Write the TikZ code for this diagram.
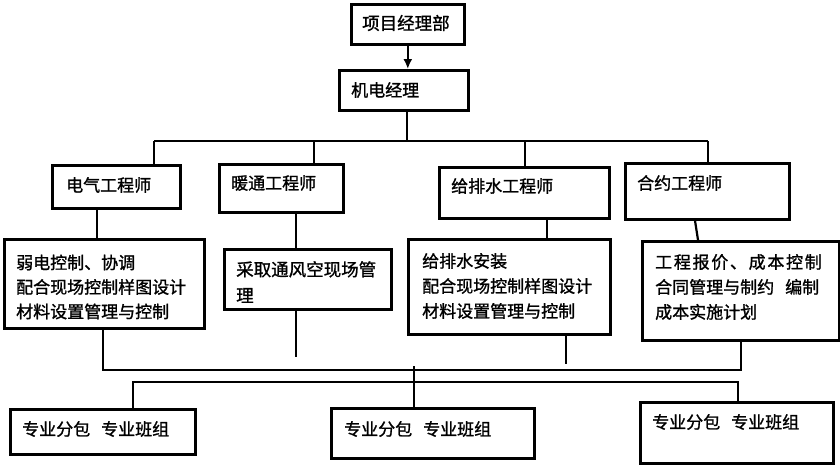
\documentclass[tikz,border=0pt]{standalone}
\usepackage{fontspec}
\setmainfont{Noto Sans CJK SC}[FakeBold=1.2]
\usetikzlibrary{arrows.meta,calc}
\begin{document}
\begin{tikzpicture}[x=1pt,y=-1pt,
  box/.style={draw, line width=2.6pt, inner sep=0pt, anchor=north west},
  lbl/.style={anchor=west, inner sep=0pt, font=\fontsize{17}{25}\selectfont, align=left},
  conn/.style={line width=2.2pt},
]
\useasboundingbox[fill=white] (0,0) rectangle (840,464);
% boxes
\node[box, minimum width=113pt, minimum height=40pt] (pm)  at (350,3)   {};
\node[box, minimum width=129pt, minimum height=40pt] (jd)  at (338,69)  {};
\node[box, minimum width=128pt, minimum height=43pt] (dq)  at (51,164)  {};
\node[box, minimum width=124pt, minimum height=48pt] (nt)  at (218,163) {};
\node[box, minimum width=170pt, minimum height=51pt] (gps) at (438,166) {};
\node[box, minimum width=164pt, minimum height=56pt] (hy)  at (624,162) {};
\node[box, minimum width=200pt, minimum height=89pt] (rd)  at (3,238)   {};
\node[box, minimum width=167pt, minimum height=60pt] (cq)  at (223,248) {};
\node[box, minimum width=202pt, minimum height=95pt] (gpa) at (407,238) {};
\node[box, minimum width=197pt, minimum height=99pt] (gc)  at (641,240) {};
\node[box, minimum width=185pt, minimum height=45pt] (s1)  at (9,408)   {};
\node[box, minimum width=203pt, minimum height=50pt] (s2)  at (330,407) {};
\node[box, minimum width=193pt, minimum height=61pt] (s3)  at (639,401) {};
% labels
\node[lbl, font=\fontsize{17.5}{25}\selectfont] (tpm) at (362,23) {项目经理部};
\node[lbl] (tjd)  at (351,90)  {机电经理};
\node[lbl] (tdq)  at (66,185)  {电气工程师};
\node[lbl] (tnt)  at (231,183) {暖通工程师};
\node[lbl] (tgps) at (451,186) {给排水工程师};
\node[lbl] (thy)  at (637,183) {合约工程师};
\node[lbl, font=\fontsize{17}{24.5}\selectfont] (trd) at (16,287)
  {弱电控制、协调\\配合现场控制样图设计\\材料设置管理与控制};
\node[lbl, font=\fontsize{17.5}{26}\selectfont] (tcq) at (236,282)
  {采取通风空现场管\\理};
\node[lbl] (tgpa) at (422,286)
  {给排水安装\\配合现场控制样图设计\\材料设置管理与控制};
\node[lbl] (tgc) at (655,287)
  {{\addfontfeatures{LetterSpace=10}工程报价、成本控制}\\合同管理与制约\hspace{11pt}编制\\成本实施计划};
\node[lbl] (ts1) at (22,429)  {专业分包\hspace{11pt}专业班组};
\node[lbl] (ts2) at (344,429) {专业分包\hspace{11pt}专业班组};
\node[lbl] (ts3) at (652,422) {专业分包\hspace{11pt}专业班组};
% connectors
\draw[conn, -{Latex[length=10pt,width=9pt]}] (pm.south) -- (pm.south |- jd.north);
\coordinate (jdj) at (407,141);
\coordinate (busL) at (154,141);
\coordinate (busR) at (708,141);
\coordinate (ntj) at (314,141);
\coordinate (gpj) at (525,141);
\draw[conn] (jdj |- jd.south) -- (jdj);
\draw[conn] (busL) -- (busR);
\draw[conn] (busL) -- (busL |- dq.north);
\draw[conn] (ntj) -- (ntj |- nt.north);
\draw[conn] (gpj) -- (gpj |- gps.north);
\draw[conn] (busR) -- (busR |- hy.north);
\coordinate (x1) at (97,0);
\coordinate (x2) at (296,0);
\coordinate (x3) at (547,0);
\draw[conn] (x1 |- dq.south) -- (x1 |- rd.north);
\draw[conn] (x2 |- nt.south) -- (x2 |- cq.north);
\draw[conn] (x3 |- gps.south) -- (x3 |- gpa.north);
\draw[conn] ($(hy.south west)+(71,0)$) -- ($(gc.north west)+(57,0)$);
\coordinate (d1) at (296,357);
\coordinate (d2) at (566,364);
\draw[conn] (d1 |- cq.south) -- (d1);
\draw[conn] (d2 |- gpa.south) -- (d2);
\coordinate (b1L) at (103,370);
\coordinate (b1R) at (741,370);
\draw[conn] (b1L |- rd.south) -- (b1L) -- (b1R) -- (b1R |- gc.south);
\coordinate (v) at (414,366);
\draw[conn] (v) -- (v |- s2.north);
\coordinate (b2L) at (133,382);
\coordinate (b2R) at (738,382);
\draw[conn] (b2L |- s1.north) -- (b2L) -- (b2R) -- (b2R |- s3.north);
\end{tikzpicture}
\end{document}
